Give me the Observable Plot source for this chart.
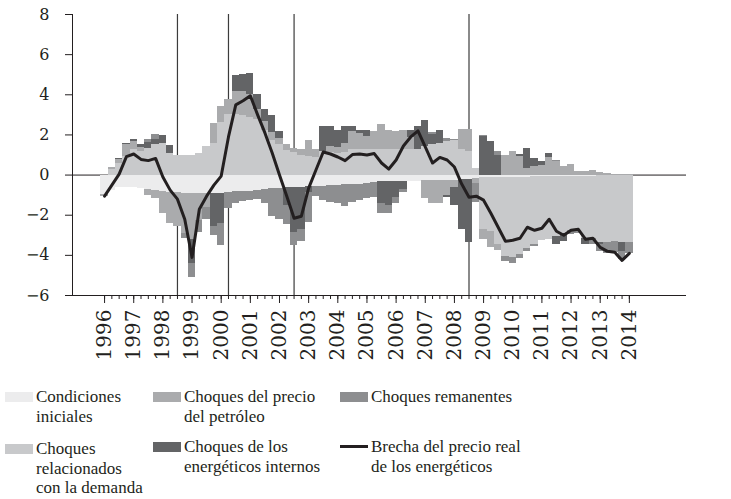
<!DOCTYPE html>
<html><head><meta charset="utf-8">
<script src="https://cdn.jsdelivr.net/npm/d3@7"></script>
<script src="https://cdn.jsdelivr.net/npm/@observablehq/plot@0.6"></script>
<style>
body{margin:0;background:#fff;}
#wrap{position:relative;width:731px;height:499px;overflow:hidden;}
#chart{position:absolute;left:0;top:0;}
.txt{position:absolute;font-family:"Liberation Serif",serif;font-size:17px;line-height:19.5px;color:#231f20;white-space:nowrap;}
.sw{position:absolute;width:28px;height:10px;}
</style></head><body><div id="wrap"><div id="chart"></div></div>
<script>
// quarterly data 1996Q1 .. 2014Q1
const years = [1996,1997,1998,1999,2000,2001,2002,2003,2004,2005,2006,2007,2008,2009,2010,2011,2012,2013,2014];
const yTicks = [-6,-4,-2,0,2,4,6,8];
const seriesNames = ["Condiciones iniciales","Choques relacionados con la demanda","Choques del precio del petróleo","Choques de los energéticos internos","Choques remanentes"];
const seriesColors = ["#ececed","#c8c9cb","#aaabad","#636466","#8d8e90"];
const condiciones = [-0.95,-0.75,-0.62,-0.6,-0.62,-0.65,-0.72,-0.78,-0.82,-0.85,-0.88,-0.9,-0.9,-0.9,-0.9,-0.9,-0.9,-0.88,-0.83,-0.83,-0.8,-0.78,-0.7,-0.66,-0.65,-0.63,-0.6,-0.6,-0.58,-0.55,-0.55,-0.5,-0.5,-0.48,-0.45,-0.45,-0.4,-0.38,-0.33,-0.33,-0.33,-0.33,-0.3,-0.3,-0.28,-0.27,-0.25,-0.25,-0.25,-0.2,-0.2,-0.15,-0.1,-0.1,-0.1,-0.1,-0.1,-0.1,-0.1,-0.08,-0.08,-0.08,-0.06,-0.06,-0.05,-0.05,-0.05,-0.05,-0.04,-0.04,-0.03,-0.03,-0.03];
const demanda = [0,0.28,0.58,0.95,1.25,1.15,1.3,1.5,1.55,1.05,1.0,1.0,1.0,1.05,1.4,1.55,2.6,3.0,3.0,2.95,2.85,2.75,2.2,1.7,1.5,1.2,1.1,1.0,0.92,0.9,1.16,1.1,1.05,1.1,1.25,1.25,1.25,1.25,1.25,1.25,1.25,1.25,1.25,1.25,1.42,1.5,1.58,1.66,1.7,1.25,1.16,0.33,-2.6,-2.7,-3.35,-3.95,-4.0,-3.85,-3.55,-3.4,-3.16,-3.15,-3.0,-2.9,-2.7,-2.75,-3.1,-3.1,-3.3,-3.3,-3.3,-3.35,-3.35];
const petroleo = [-0.1,0.1,0.2,0.58,0.42,0.2,-0.28,-0.4,-1.1,-1.55,-1.7,-2.0,-2.3,-1.35,-0.7,1.0,0.8,0.75,1.15,1.2,1.15,0.5,0.45,0.4,0.33,0.3,0.23,0.25,0.78,0.35,0,0.3,0.3,0.45,0.9,0.82,0.65,0.91,1.25,0.99,0.91,0.99,0.6,0,-0.9,-1.15,-1.15,-0.75,-0.35,1.02,1.11,-0.25,-0.5,-0.8,-0.3,1.0,1.16,0.95,0.33,0.42,0.5,0.88,0.68,0.45,0.55,0.2,0.2,0.25,0.13,0.08,0.03,0.02,0.02];
const internos = [0,0,0.05,0.06,0.08,0.15,0.3,0.25,0.4,0.4,0,0,-1.2,0,0,-1.65,-1.5,0,0.83,0.85,1.05,0.75,0.6,0.85,0.33,-0.9,-2.25,-2.1,-0.3,0,1.25,1.0,0.85,0.85,0.25,0.17,0.3,0,-1.08,-1.2,-0.8,-0.4,0.35,1.16,1.28,0.5,0.66,-0.1,-0.9,-2.5,-3.15,0,1.9,1.66,1.0,0,0,0.08,1.0,0.41,0.16,0.17,-0.42,-0.35,0,0,-0.3,0,-0.1,0,0,-0.45,0];
const remanentes = [0,0,0,0,0,0,0.15,0.25,0,0,0,-0.25,-0.7,-0.6,-0.6,-0.45,-1.1,-0.78,-0.6,-0.5,-0.45,-0.45,-0.7,-1.4,-1.55,-0.95,-0.65,-0.6,-1.5,-0.5,-0.7,-0.85,-0.9,-1.1,-0.9,-0.8,-0.76,-0.75,-0.5,-0.4,-0.3,-0.15,0,0,0,0.1,0,0.17,0.08,0,0,-0.95,0.08,0,0.16,-0.25,-0.3,-0.2,-0.15,-0.1,0,0,0.07,0,-0.2,-0.1,0,-0.3,-0.35,-0.55,-0.55,-0.4,-0.55];
const brecha = [-1.05,-0.5,0.05,0.92,1.05,0.78,0.72,0.83,-0.1,-0.75,-1.2,-2.2,-4.1,-1.7,-1.05,-0.5,-0.05,1.9,3.5,3.7,3.95,3.0,2.1,1.1,0.0,-1.05,-2.15,-2.05,-0.65,0.25,1.15,1.05,0.9,0.72,1.02,1.05,1.0,1.07,0.6,0.3,0.75,1.45,1.9,2.2,1.4,0.6,0.88,0.75,0.4,-0.45,-1.1,-1.05,-1.25,-1.9,-2.6,-3.3,-3.25,-3.15,-2.6,-2.75,-2.65,-2.2,-2.8,-3.0,-2.75,-2.7,-3.2,-3.15,-3.6,-3.8,-3.85,-4.25,-3.9];
// quarter indices of the vertical reference lines (1998T3, 2000T2, 2002T3, 2008T3)
const eventQuarters = [10,17,26,50];

const seriesValues = [condiciones, demanda, petroleo, internos, remanentes];
const t = brecha.map((_, i) => 1996 + i / 4);
const rows = [];
seriesNames.forEach((name, k) => seriesValues[k].forEach((v, i) => rows.push({t: t[i], serie: name, v})));
const events = eventQuarters.map(q => t[q]);
const yMin = yTicks[0], yMax = yTicks[yTicks.length - 1];

const plot = Plot.plot({
  width: 731, height: 380,
  marginLeft: 72, marginRight: 45, marginTop: 14, marginBottom: 85,
  style: {fontFamily: "DejaVu Serif", fontSize: "15px", color: "#231f20", background: "white", overflow: "visible"},
  x: {domain: [1994.9, 2015.96], ticks: years, tickFormat: d => String(d), tickRotate: -90, tickSize: 8, tickPadding: 6, label: null},
  y: {domain: [yMin, yMax], ticks: yTicks, tickFormat: d => d < 0 ? "\u2212" + Math.abs(d) : String(d), tickSize: 7, tickPadding: 16, label: null, line: true},
  color: {domain: seriesNames, range: seriesColors},
  marks: [
    Plot.ruleY([0], {stroke: "#231f20", strokeWidth: 1}),
    Plot.ruleX(events, {y1: yMin, y2: yMax, stroke: "#3c3c3c", strokeWidth: 1.2}),
    Plot.rectY(rows, {x1: d => d.t - 0.125, x2: d => d.t + 0.125, y: "v", fill: "serie", order: seriesNames, shapeRendering: "crispEdges"}),
    Plot.ruleY([yMin], {stroke: "#231f20", strokeWidth: 1.2}),
    Plot.ruleX(t, {y1: yMin, y2: yMin - 0.2, stroke: "#231f20", strokeWidth: 1}),
    Plot.line(brecha, {x: (d, i) => t[i], y: d => d, stroke: "#231f20", strokeWidth: 3, strokeLinejoin: "round"})
  ]
});
d3.select(plot).selectAll("text").style("font-family", "'DejaVu Serif', serif").style("fill", "#231f20");
d3.select(plot).selectAll('[aria-label^="x-axis"] text').style("font-size", "20px");
d3.select(plot).selectAll('[aria-label^="y-axis"] text').style("font-size", "16px");
document.getElementById("chart").appendChild(plot);

// legend
const wrap = document.getElementById("wrap");
const legendItems = [
  {k: 0, left: 5, top: 387, lines: ["Condiciones", "iniciales"]},
  {k: 1, left: 5, top: 439, lines: ["Choques", "relacionados", "con la demanda"]},
  {k: 2, left: 153, top: 387, lines: ["Choques del precio", "del petróleo"]},
  {k: 3, left: 153, top: 437, lines: ["Choques de los", "energéticos internos"]},
  {k: 4, left: 340, top: 387, lines: ["Choques remanentes"]},
  {k: -1, left: 340, top: 437, lines: ["Brecha del precio real", "de los energéticos"]}
];
legendItems.forEach(it => {
  const sw = document.createElement("div");
  sw.className = "sw";
  sw.style.left = it.left + "px";
  if (it.k >= 0) {
    sw.style.top = (it.top + 5) + "px";
    sw.style.background = seriesColors[it.k];
  } else {
    sw.style.top = (it.top + 8) + "px";
    sw.style.height = "3px";
    sw.style.background = "#231f20";
  }
  wrap.appendChild(sw);
  it.lines.forEach((line, j) => {
    const tx = document.createElement("div");
    tx.className = "txt";
    tx.style.left = (it.left + 31) + "px";
    tx.style.top = (it.top + j * 19.5) + "px";
    tx.textContent = line;
    wrap.appendChild(tx);
  });
});
</script></body></html>
